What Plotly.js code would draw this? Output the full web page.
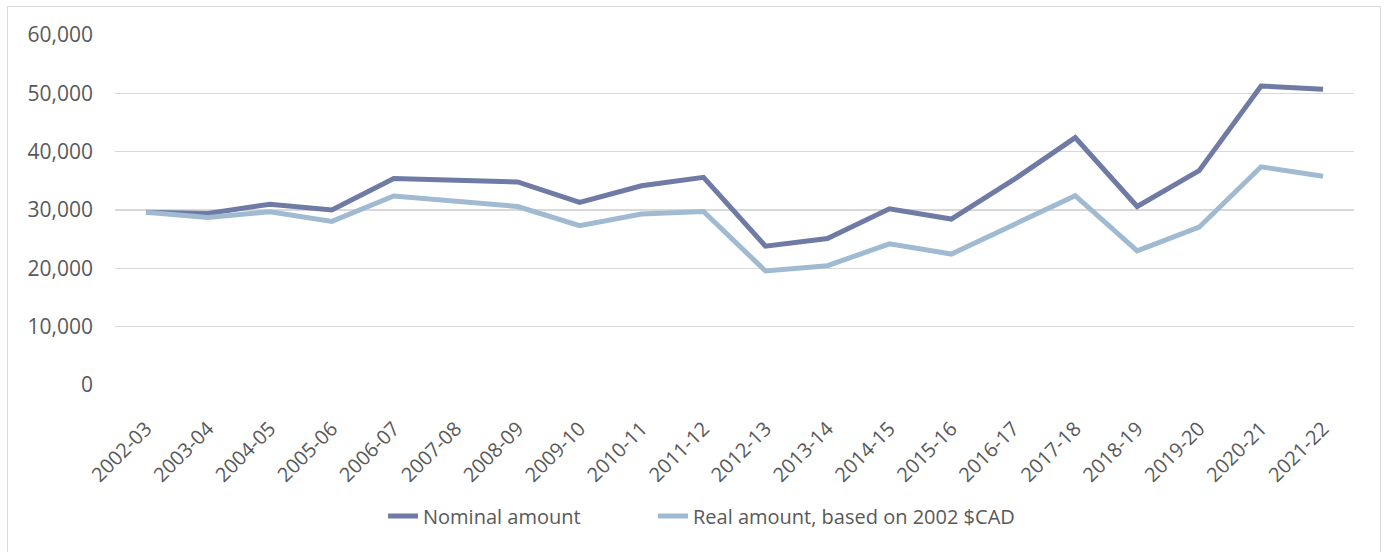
<!DOCTYPE html>
<html>
<head>
<meta charset="utf-8">
<script src="https://cdn.plot.ly/plotly-3.0.1.min.js"></script>
<style>
html,body{margin:0;padding:0;background:#fff;overflow:hidden;}
#frame{position:absolute;left:7px;top:6px;width:1374px;height:600px;border:1px solid #d9d9d9;box-sizing:border-box;pointer-events:none;z-index:5;}
#chart{position:absolute;left:0;top:0;width:1387px;height:552px;}
</style>
</head>
<body>
<div id="chart"></div>
<div id="frame"></div>
<script>
var years = ["2002-03","2003-04","2004-05","2005-06","2006-07","2007-08","2008-09","2009-10","2010-11","2011-12",
             "2012-13","2013-14","2014-15","2015-16","2016-17","2017-18","2018-19","2019-20","2020-21","2021-22"];
var nominal = [29600,29400,31000,30000,35400,35100,34800,31300,34150,35600,
               23800,25100,30200,28450,35150,42400,30600,36750,51250,50700];
var real = [29600,28700,29700,28050,32400,31500,30600,27300,29300,29750,
            19550,20450,24200,22450,27450,32450,23000,27050,37400,35800];
var tickVals = [0,10000,20000,30000,40000,50000,60000];
var tickText = ["0","10,000","20,000","30,000","40,000","50,000","60,000"];

var font = "Open Sans, sans-serif";
var legFont = {family: font, size: 20, color: "#595959"};
var traces = [
  {x: years, y: nominal, type: "scatter", mode: "lines", name: "Nominal amount",
   line: {color: "#6f7aa5", width: 5}, legend: "legend"},
  {x: years, y: real, type: "scatter", mode: "lines", name: "Real amount, based on 2002 $CAD",
   line: {color: "#9fbad1", width: 5}, legend: "legend2"}
];
var layout = {
  width: 1387, height: 552,
  margin: {l: 115, r: 33, t: 35, b: 167},
  paper_bgcolor: "#ffffff", plot_bgcolor: "#ffffff",
  font: {family: font, color: "#595959", size: 20},
  showlegend: true,
  legend: {orientation: "h", xref: "container", yref: "container", x: 383/1387, xanchor: "left",
           y: 1 - 516/552, yanchor: "middle", font: legFont, bgcolor: "rgba(0,0,0,0)"},
  legend2: {orientation: "h", xref: "container", yref: "container", x: 653/1387, xanchor: "left",
           y: 1 - 516/552, yanchor: "middle", font: legFont, bgcolor: "rgba(0,0,0,0)"},
  xaxis: {type: "category", range: [-0.5, 19.5], tickangle: -45, showgrid: false,
          showline: false, zeroline: false, ticks: "", ticklabelstandoff: 27,
          tickfont: {family: font, size: 20, color: "#595959"}, fixedrange: true},
  yaxis: {range: [0, 60000], tickvals: tickVals, ticktext: tickText, showgrid: true,
          gridcolor: "#d9d9d9", gridwidth: 1.5, zeroline: false, showline: false, ticks: "",
          ticklabelstandoff: 21,
          tickfont: {family: font, size: 21, color: "#595959"}, fixedrange: true}
};
Plotly.newPlot("chart", traces, layout, {displayModeBar: false, staticPlot: true});
</script>
</body>
</html>
